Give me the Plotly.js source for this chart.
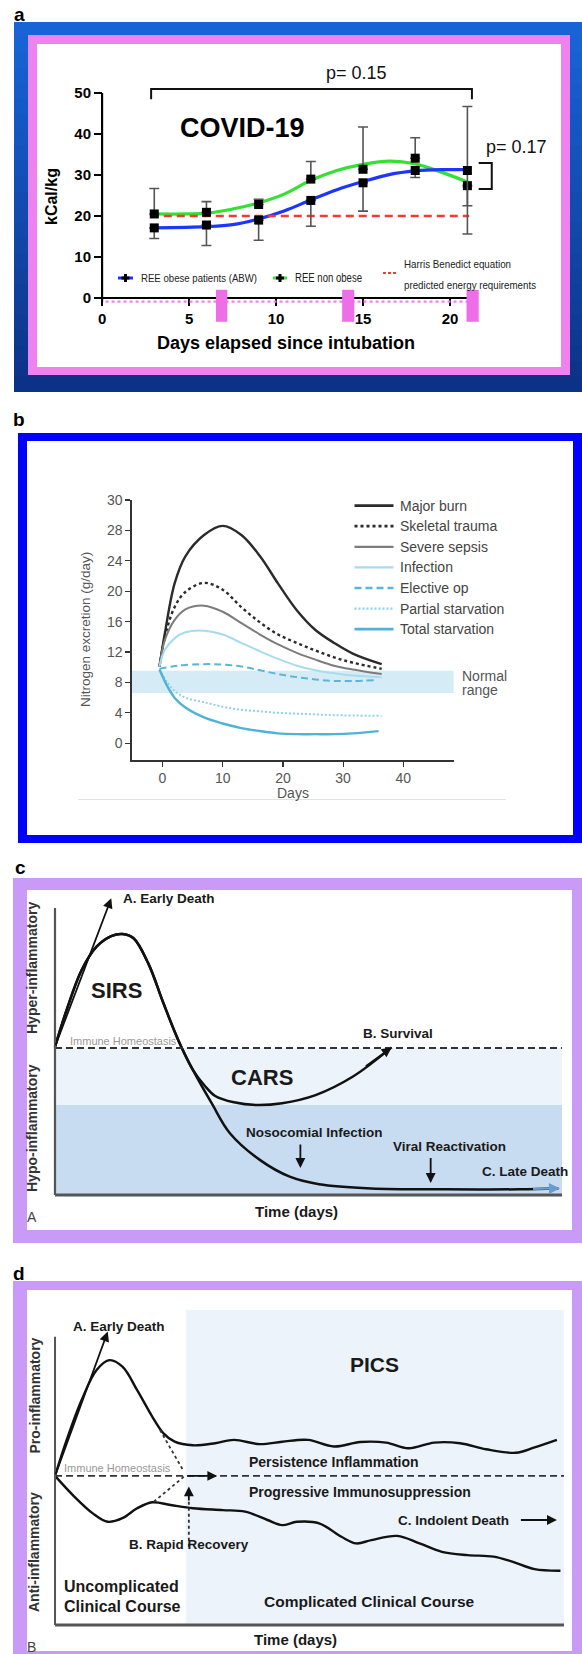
<!DOCTYPE html>
<html><head><meta charset="utf-8">
<script src="https://cdn.plot.ly/plotly-3.0.1.min.js"></script>
<style>html,body{margin:0;padding:0;background:#fff;}#chart{width:582px;height:1654px;}</style>
</head><body><div id="chart"></div>
<script>
// ---------------- Panel a data ----------------
const aDays = [3, 6, 9, 12, 15, 18, 21];
const aObese = [17.1, 17.8, 19.0, 23.8, 28.1, 31.1, 31.1];
const aObeseErrPlus = [0, 0, 0, 0, 0, 0, 15.6];
const aObeseErrMinus = [2.6, 5.0, 4.9, 6.3, 6.9, 1.7, 15.5];
const aNonObese = [20.5, 20.9, 22.8, 29.0, 31.4, 34.1, 27.4];
const aNonObeseErrPlus = [6.2, 2.6, 1.3, 4.3, 10.3, 5.0, 0];
const aNonObeseErrMinus = [0, 0, 0, 0, 0, 0, 4.9];
const aFitDays = [3, 6, 7.5, 9, 10.5, 12, 13.5, 15, 16.5, 18, 19.5, 21];
const aObeseFit = [17.1, 17.4, 17.9, 19.3, 21.3, 23.9, 26.4, 28.4, 30.1, 31.0, 31.3, 31.3];
const aNonObeseFit = [20.5, 20.7, 21.7, 23.2, 25.4, 28.7, 31.1, 32.6, 33.4, 32.7, 30.7, 28.3];
const aHarrisDays = [2.8, 21.1];
const aHarrisValue = [20, 20];
const aXTicks = [0, 5, 10, 15, 20];
const aYTicks = [0, 10, 20, 30, 40, 50];
const aPinkMarks = [[6.55, 7.2], [13.8, 14.5], [20.95, 21.65]];
const aBracket1 = {x: [2.82, 21.26], y: [48.5, 51]};
const aBracket2 = {x: [21.65, 22.4], y: [26.6, 32.9]};

// ---------------- Panel b data ----------------
const bDays = [-0.5, 0.4, 2, 3.8, 6.9, 10, 13.1, 16.2, 19.2, 22.3, 25.4, 28.5, 31.6, 36.4];
const bMajorBurn = [10.1, 14.5, 21.0, 24.6, 27.4, 28.6, 27.4, 24.6, 21.0, 17.5, 14.9, 13.2, 11.8, 10.4];
const bSkeletal = [10.1, 14.0, 17.9, 19.9, 21.1, 20.2, 17.9, 15.9, 14.3, 13.2, 12.2, 11.3, 10.6, 9.8];
const bSepsis = [10.1, 13.6, 16.2, 17.6, 18.1, 17.3, 15.8, 14.3, 13.0, 11.9, 11.0, 10.2, 9.7, 9.1];
const bInfection = [10.1, 12.3, 13.8, 14.6, 14.8, 14.3, 13.2, 12.1, 11.1, 10.2, 9.6, 9.2, 8.9, 8.7];
const bElectiveDays = [-0.5, 1.6, 3.8, 8.7, 13.1, 16.2, 19.2, 22.3, 25.4, 28.5, 31.6, 35.2];
const bElective = [9.8, 10.1, 10.3, 10.4, 10.1, 9.6, 9.1, 8.7, 8.4, 8.2, 8.2, 8.3];
const bPartialDays = [-0.5, 0.8, 2, 3.8, 6.9, 10, 13.1, 16.2, 19.2, 22.3, 25.4, 28.5, 36.4];
const bPartial = [9.7, 8.0, 6.9, 6.0, 5.4, 4.8, 4.4, 4.2, 4.0, 3.9, 3.8, 3.7, 3.6];
const bTotalDays = [-0.5, 0.8, 2, 3.8, 6.9, 10, 13.1, 16.2, 19.2, 22.3, 25.4, 28.5, 31.6, 35.9];
const bTotal = [9.7, 7.5, 6.0, 4.7, 3.4, 2.6, 2.0, 1.6, 1.3, 1.2, 1.2, 1.2, 1.3, 1.6];
const bNormalRange = [6.6, 9.55];
const bXTicks = [0, 10, 20, 30, 40];
const bYTickVals = [0, 4, 8, 12, 16, 20, 24, 28, 32];
const bYTickText = ['0', '4', '8', '12', '16', '20', '24', '28', '30'];

// ---------------- Panel c data (schematic) ----------------
const cSirsX = [0, 2.3, 5.26, 8.2, 11.1, 13.3, 15.5, 18.4, 21.4, 24.3, 27.2];
const cSirsY = [49.4, 61.7, 75, 82.8, 86.3, 87, 85.6, 77.2, 63.9, 51.7, 41.7];
const cCarsX = [29.5, 31.6, 35.3, 39.7, 44.8, 51.4, 58.7, 66.4];
const cCarsY = [36.5, 33, 30.9, 30, 30.6, 33.3, 39.4, 49.2];
const cLateX = [30.9, 34.5, 40.4, 46.3, 52.1, 62.4, 77, 91.6, 99.3];
const cLateY = [30.6, 20.6, 11.7, 6.1, 3.6, 2.2, 1.9, 1.9, 2.2];
const cHomeostasis = 49;
const cBandLevels = [0, 30, 49];

// ---------------- Panel d data (schematic) ----------------
const dProX = [0, 2.3, 5.25, 8.2, 10.75, 13.3, 16.2, 19.2, 21.4, 23.6, 27.2, 31.6, 35.3, 40.4, 44.8, 49.9, 55, 60.2, 65.3, 69.7, 74.8, 79.9, 85, 90.9, 94.6, 99];
const dProY = [49.7, 61.7, 75, 85, 88.3, 86.1, 78.3, 69.4, 63.9, 61.1, 59.9, 60.6, 61.7, 60.3, 61.1, 61.7, 59.5, 61, 60.8, 58.9, 60.8, 60.6, 58.6, 57.4, 59.2, 61.7];
const dAntiX = [0, 3.8, 7.45, 10.4, 13.3, 16.2, 19.2, 22.8, 27.2, 33.1, 37.5, 41.9, 44.8, 47.7, 52.1, 56.5, 59.4, 62.4, 67.5, 71.9, 76.3, 81.4, 86.5, 90.2, 94.6, 99.7];
const dAntiY = [49.7, 42.8, 37.2, 34.4, 35.6, 38.9, 40.9, 40, 38.9, 38.3, 37.8, 35, 33.3, 34.4, 33.9, 29.4, 27.2, 28.3, 29.7, 27.2, 24.4, 23.3, 22.8, 21.1, 18.6, 18.1];
const dHomeostasis = 49.7;
const dPicsStart = 25.8;
const dDot1X = [20.7, 25.4], dDot1Y = [65, 51.2];
const dDot2X = [19.5, 25.4], dDot2Y = [41.1, 49.4];
const dRecoveryX = [26.4, 26.4], dRecoveryY = [26.1, 42];

// ---------------- helpers ----------------
const W = 582, H = 1654;
const px = v => v / W, py = v => 1 - v / H;
const F = 'Liberation Sans, Arial, Helvetica, sans-serif';
const shapes = [], ann = [], traces = [];
const squeeze = {};

function prect(x0, y0, x1, y1, fill, layer) {
  shapes.push({type: 'rect', xref: 'paper', yref: 'paper', x0: px(x0), x1: px(x1), y0: py(y1), y1: py(y0),
    fillcolor: fill, line: {width: 0}, layer: layer || 'below'});
}
function pline(x0, y0, x1, y1, color, width, dash) {
  shapes.push({type: 'line', xref: 'paper', yref: 'paper', x0: px(x0), x1: px(x1), y0: py(y0), y1: py(y1),
    line: {color: color, width: width, dash: dash || 'solid'}});
}
function pcross(x, y, r) {
  pline(x - r, y, x + r, y, '#000', 3);
  pline(x, y - r, x, y + r, '#000', 3);
}
function dline(ax, x0, y0, x1, y1, color, width, dash) {
  shapes.push({type: 'line', xref: 'x' + ax, yref: 'y' + ax, x0: x0, x1: x1, y0: y0, y1: y1,
    line: {color: color, width: width, dash: dash || 'solid'}});
}
function ptext(x, y, text, size, o) {
  o = o || {};
  if (o.len) squeeze[text] = o.len;
  ann.push({xref: 'paper', yref: 'paper', x: px(x), y: py(y), text: text, showarrow: false,
    xanchor: o.xa || 'center', yanchor: 'middle', align: o.xa === 'left' ? 'left' : 'center', textangle: o.angle || 0,
    borderpad: 0,
    font: {family: o.family || F, size: size, color: o.color || '#000', weight: o.bold ? 'bold' : 'normal'}});
}
function dtext(ax, x, y, text, size, o) {
  o = o || {};
  ann.push({xref: 'x' + ax, yref: 'y' + ax, x: x, y: y, text: text, showarrow: false,
    xanchor: o.xa || 'left', yanchor: 'middle', borderpad: 0,
    font: {family: o.family || F, size: size, color: o.color || '#1a1a1a', weight: o.bold === false ? 'normal' : 'bold'}});
}
function darrow(ax, from, to, color, width) {
  ann.push({xref: 'x' + ax, yref: 'y' + ax, axref: 'x' + ax, ayref: 'y' + ax, x: to[0], y: to[1], ax: from[0], ay: from[1],
    text: '', showarrow: true, arrowhead: 2, arrowsize: 1.1, arrowwidth: width || 1.8, arrowcolor: color || '#111'});
}

// ---------------- Panel frames ----------------
const nStripe = 24;
for (let i = 0; i < nStripe; i++) {
  const t = i / (nStripe - 1);
  const r = Math.round(24 + (12 - 24) * t), g = Math.round(100 + (50 - 100) * t), b = Math.round(215 + (135 - 215) * t);
  const y0 = 22 + i * (370 / nStripe), y1 = y0 + 370 / nStripe + 0.8;
  prect(14, y0, 582, Math.min(y1, 392), 'rgb(' + r + ',' + g + ',' + b + ')');
}
prect(28, 35, 570, 375, '#ee82ee');
prect(37, 44, 561, 367, '#ffffff');
prect(18, 433, 582, 843, '#0000ff');
prect(27, 441, 573, 835, '#ffffff');
prect(13, 878, 582, 1243, '#c99af6');
prect(27, 890, 572, 1230, '#ffffff');
prect(13, 1281, 582, 1654, '#c99af6');
prect(27, 1290, 572, 1651, '#ffffff');

ptext(19, 15, 'a', 19, {bold: true});
ptext(19, 420, 'b', 19, {bold: true});
ptext(20, 868, 'c', 19, {bold: true});
ptext(19, 1273, 'd', 19, {bold: true});

// ---------------- Panel a ----------------
traces.push({x: aFitDays, y: aNonObeseFit, mode: 'lines', line: {color: '#35e035', width: 3.2, shape: 'spline'}, xaxis: 'x', yaxis: 'y'});
traces.push({x: aFitDays, y: aObeseFit, mode: 'lines', line: {color: '#1c35ff', width: 3.2, shape: 'spline'}, xaxis: 'x', yaxis: 'y'});
traces.push({x: aHarrisDays, y: aHarrisValue, mode: 'lines', line: {color: '#f23b32', width: 2.4, dash: '8px,5px'}, xaxis: 'x', yaxis: 'y'});
traces.push({x: aDays, y: aNonObese, mode: 'markers', marker: {symbol: 'square', size: 9, color: '#000'},
  error_y: {type: 'data', symmetric: false, array: aNonObeseErrPlus, arrayminus: aNonObeseErrMinus, color: '#555', thickness: 1.6, width: 5},
  xaxis: 'x', yaxis: 'y', cliponaxis: false});
traces.push({x: aDays, y: aObese, mode: 'markers', marker: {symbol: 'square', size: 9, color: '#000'},
  error_y: {type: 'data', symmetric: false, array: aObeseErrPlus, arrayminus: aObeseErrMinus, color: '#555', thickness: 1.6, width: 5},
  xaxis: 'x', yaxis: 'y', cliponaxis: false});
dline('', 0, 0, 21.1, 0, '#000', 2.2);
dline('', 0, -1, 0, 50, '#000', 2.2);
shapes.push({type: 'line', xref: 'x', yref: 'y', x0: 0.2, x1: 21, y0: -0.9, y1: -0.9, line: {color: '#ee82ee', width: 2.2, dash: 'dot'}});
aPinkMarks.forEach(m => shapes.push({type: 'rect', xref: 'x', yref: 'y', x0: m[0], x1: m[1], y0: -5.8, y1: 2.0, fillcolor: '#ee6ee8', line: {width: 0}}));
shapes.push({type: 'path', xref: 'x', yref: 'y', path: `M ${aBracket1.x[0]},${aBracket1.y[0]} L ${aBracket1.x[0]},${aBracket1.y[1]} L ${aBracket1.x[1]},${aBracket1.y[1]} L ${aBracket1.x[1]},${aBracket1.y[0]}`, line: {color: '#111', width: 2}});
shapes.push({type: 'path', xref: 'x', yref: 'y', path: `M ${aBracket2.x[0]},${aBracket2.y[1]} L ${aBracket2.x[1]},${aBracket2.y[1]} L ${aBracket2.x[1]},${aBracket2.y[0]} L ${aBracket2.x[0]},${aBracket2.y[0]}`, line: {color: '#111', width: 2}});
ptext(356, 73, 'p= 0.15', 18, {color: '#111'});
ptext(516, 147, 'p= 0.17', 18, {color: '#111'});
ptext(242, 128, 'COVID-19', 27, {bold: true});
ptext(286, 343, 'Days elapsed since intubation', 18, {bold: true});
ptext(52, 197, 'kCal/kg', 16, {bold: true, angle: -90});
// legend keys
pline(118, 278, 133, 278, '#1c35ff', 3);
pcross(125.5, 278, 4);
ptext(140, 278, 'REE obese patients (ABW)', 11.5, {xa: 'left', color: '#222', len: 116});
pline(273, 278, 287, 278, '#35e035', 3);
pcross(280, 278, 4);
ptext(294, 278, 'REE non obese', 12, {xa: 'left', color: '#222', len: 67});
pline(383, 273, 398, 273, '#f23b32', 2.2, '3px,2px');
ptext(403, 263.5, 'Harris Benedict equation', 11.5, {xa: 'left', color: '#222', len: 107});
ptext(403, 285, 'predicted energy requirements', 11.5, {xa: 'left', color: '#222', len: 132});

// ---------------- Panel b ----------------
const bSeries = [
  {name: 'Major burn', x: bDays, y: bMajorBurn, color: '#2b2b2b', width: 2.4, dash: 'solid'},
  {name: 'Skeletal trauma', x: bDays, y: bSkeletal, color: '#2b2b2b', width: 2.4, dash: '3px,3px'},
  {name: 'Severe sepsis', x: bDays, y: bSepsis, color: '#7c7c7c', width: 2, dash: 'solid'},
  {name: 'Infection', x: bDays, y: bInfection, color: '#a8dbef', width: 2, dash: 'solid'},
  {name: 'Elective op', x: bElectiveDays, y: bElective, color: '#58b7d9', width: 2, dash: '7px,4px'},
  {name: 'Partial starvation', x: bPartialDays, y: bPartial, color: '#8cd3ea', width: 2, dash: '2px,2px'},
  {name: 'Total starvation', x: bTotalDays, y: bTotal, color: '#4fb3d6', width: 2.4, dash: 'solid'}
];
bSeries.forEach((s, i) => {
  traces.push({x: s.x, y: s.y, mode: 'lines', name: s.name, line: {color: s.color, width: s.width, dash: s.dash, shape: 'spline', smoothing: 1}, xaxis: 'x2', yaxis: 'y2'});
  const yy = 505.6 + i * 20.6;
  pline(354.5, yy, 393.5, yy, s.color, s.width + 0.3, s.dash);
  ptext(399, yy, s.name, 14, {xa: 'left', color: '#444'});
});
shapes.push({type: 'rect', xref: 'x2 domain', yref: 'y2', x0: 0, x1: 1, y0: bNormalRange[0], y1: bNormalRange[1], fillcolor: '#d5ecf6', line: {width: 0}, layer: 'below'});
ptext(461, 675.7, 'Normal', 14, {xa: 'left', color: '#555'});
ptext(461, 690, 'range', 14, {xa: 'left', color: '#555'});
ptext(292.5, 793, 'Days', 14, {color: '#555'});
ptext(86, 630, 'Nitrogen excretion (g/day)', 13.5, {color: '#555', angle: -90});
pline(78, 799.5, 506, 799.5, '#e2e2e2', 1);

// ---------------- Panel c ----------------
shapes.push({type: 'rect', xref: 'x3', yref: 'y3', x0: 0, x1: 100, y0: cBandLevels[1], y1: cBandLevels[2], fillcolor: '#edf3fa', line: {width: 0}, layer: 'below'});
shapes.push({type: 'rect', xref: 'x3', yref: 'y3', x0: 0, x1: 100, y0: cBandLevels[0], y1: cBandLevels[1], fillcolor: '#c7dcf0', line: {width: 0}, layer: 'below'});
dline(3, 0, cHomeostasis, 100, cHomeostasis, '#333', 1.8, '7px,4px');
dline(3, 0, 0, 0, 95.7, '#555', 2.2);
dline(3, 0, 0, 100, 0, '#555', 3);
traces.push({x: cSirsX.concat(cCarsX), y: cSirsY.concat(cCarsY), mode: 'lines', line: {color: '#111', width: 2.5, shape: 'spline'}, xaxis: 'x3', yaxis: 'y3'});
traces.push({x: cSirsX.concat(cLateX), y: cSirsY.concat(cLateY), mode: 'lines', line: {color: '#111', width: 2.5, shape: 'spline'}, xaxis: 'x3', yaxis: 'y3'});
darrow(3, [0, 49.4], [11.1, 98.9]);
darrow(3, [61, 42.6], [66.4, 49.2]);
darrow(3, [48.4, 17.3], [48.4, 9]);
darrow(3, [74.1, 12.8], [74.1, 4]);
darrow(3, [94, 2.0], [99.6, 2.2], '#6b9bd1', 2);
dtext(3, 13.3, 98.7, 'A. Early Death', 13.5);
dtext(3, 12.2, 68.3, 'SIRS', 22, {xa: 'center'});
dtext(3, 2.76, 51.4, 'Immune Homeostasis', 11, {bold: false, color: '#999'});
dtext(3, 40.8, 39, 'CARS', 22, {xa: 'center'});
dtext(3, 60.6, 54, 'B. Survival', 13.5);
dtext(3, 37.5, 20.8, 'Nosocomial Infection', 13.5);
dtext(3, 66.4, 16.1, 'Viral Reactivation', 13.5);
dtext(3, 84, 7.8, 'C. Late Death', 13.5);
dtext(3, 47.7, -5.6, 'Time (days)', 15, {xa: 'center'});
ptext(32, 968, 'Hyper-inflammatory', 14, {bold: true, angle: -90, color: '#333'});
ptext(32, 1128, 'Hypo-inflammatory', 14, {bold: true, angle: -90, color: '#333'});
ptext(31.5, 1217, 'A', 14, {color: '#444'});

// ---------------- Panel d ----------------
shapes.push({type: 'rect', xref: 'x4', yref: 'y4', x0: dPicsStart, x1: 100.4, y0: 0, y1: 105, fillcolor: '#ecf3fa', line: {width: 0}, layer: 'below'});
dline(4, 0, dHomeostasis, 100.4, dHomeostasis, '#333', 1.8, '7px,4px');
dline(4, 0, 0, 0, 96.1, '#555', 2);
dline(4, 0, 0, 100.4, 0, '#555', 2.8);
traces.push({x: dProX, y: dProY, mode: 'lines', line: {color: '#111', width: 2.4, shape: 'spline'}, xaxis: 'x4', yaxis: 'y4'});
traces.push({x: dAntiX, y: dAntiY, mode: 'lines', line: {color: '#111', width: 2.4, shape: 'spline'}, xaxis: 'x4', yaxis: 'y4'});
traces.push({x: dDot1X, y: dDot1Y, mode: 'lines', line: {color: '#333', width: 1.8, dash: 'dot'}, xaxis: 'x4', yaxis: 'y4'});
traces.push({x: dDot2X, y: dDot2Y, mode: 'lines', line: {color: '#333', width: 1.8, dash: 'dot'}, xaxis: 'x4', yaxis: 'y4'});
traces.push({x: dRecoveryX, y: dRecoveryY, mode: 'lines', line: {color: '#333', width: 1.8, dash: 'dot'}, xaxis: 'x4', yaxis: 'y4'});
darrow(4, [0, 49.7], [10.4, 97.8]);
darrow(4, [25.8, 49.7], [32, 49.7]);
darrow(4, [26.4, 41], [26.4, 46.2]);
darrow(4, [91.6, 35], [99, 35]);
dtext(4, 3.4, 99.4, 'A. Early Death', 13.5);
dtext(4, 63.1, 86.7, 'PICS', 21, {xa: 'center'});
dtext(4, 1.6, 52.2, 'Immune Homeostasis', 11, {bold: false, color: '#999'});
dtext(4, 38, 54.4, 'Persistence Inflammation', 14);
dtext(4, 38, 44.4, 'Progressive Immunosuppression', 14);
dtext(4, 67.5, 35, 'C. Indolent Death', 13.5);
dtext(4, 14.4, 26.7, 'B. Rapid Recovery', 13.5);
dtext(4, 1.6, 12.8, 'Uncomplicated', 16);
dtext(4, 1.6, 6.1, 'Clinical Course', 16);
dtext(4, 41.1, 7.8, 'Complicated Clinical Course', 15.5);
dtext(4, 47.5, -5, 'Time (days)', 15, {xa: 'center'});
ptext(34, 1395.5, 'Pro-inflammatory', 14, {bold: true, angle: -90, color: '#333'});
ptext(34, 1552, 'Anti-inflammatory', 14, {bold: true, angle: -90, color: '#333'});
ptext(31.5, 1647, 'B', 14, {color: '#444'});

// ---------------- layout ----------------
const noGrid = {showgrid: false, zeroline: false, fixedrange: true};
const layout = {
  width: W, height: H, margin: {l: 0, r: 0, t: 0, b: 0},
  paper_bgcolor: '#ffffff', plot_bgcolor: 'rgba(0,0,0,0)', showlegend: false,
  xaxis: Object.assign({domain: [px(37), px(561)], range: [-3.74, 26.38], anchor: 'free', position: py(298), showline: false,
    tickvals: aXTicks, ticks: 'outside', ticklen: 7, tickwidth: 2.2, tickcolor: '#000',
    tickfont: {family: F, size: 15, color: '#000', weight: 'bold'}}, noGrid),
  yaxis: Object.assign({domain: [py(367), py(44)], range: [-16.83, 61.95], anchor: 'free', position: px(102), showline: false,
    tickvals: aYTicks, ticks: 'outside', ticklen: 8, tickwidth: 2.2, tickcolor: '#000',
    tickfont: {family: F, size: 15, color: '#000', weight: 'bold'}}, noGrid),
  xaxis2: Object.assign({domain: [px(131.8), px(453.6)], range: [-5.1, 48.35], anchor: 'y2', showline: true, linecolor: '#333', linewidth: 1.5,
    tickvals: bXTicks, ticks: 'outside', ticklen: 5, tickwidth: 1.2, tickcolor: '#333',
    tickfont: {family: F, size: 14, color: '#555'}}, noGrid),
  yaxis2: Object.assign({domain: [py(760), py(500)], range: [-2.2, 32], anchor: 'x2', showline: true, linecolor: '#333', linewidth: 1.5,
    tickvals: bYTickVals, ticktext: bYTickText, ticks: 'outside', ticklen: 5, tickwidth: 1.2, tickcolor: '#333',
    tickfont: {family: F, size: 14, color: '#555'}}, noGrid),
  xaxis3: Object.assign({domain: [px(27), px(571)], range: [-5.52, 101.78], anchor: 'y3', visible: false}, noGrid),
  yaxis3: Object.assign({domain: [py(1230), py(892)], range: [-11.67, 101], anchor: 'x3', visible: false}, noGrid),
  xaxis4: Object.assign({domain: [px(28), px(571)], range: [-5.33, 101.78], anchor: 'y4', visible: false}, noGrid),
  yaxis4: Object.assign({domain: [py(1651), py(1293)], range: [-8.67, 110.67], anchor: 'x4', visible: false}, noGrid),
  shapes: shapes, annotations: ann
};
Plotly.newPlot('chart', traces, layout, {displayModeBar: false, staticPlot: true}).then(gd => {
  gd.querySelectorAll('.annotation-text').forEach(t => {
    const L = squeeze[t.textContent];
    if (L) {
      t.setAttribute('textLength', L);
      t.setAttribute('lengthAdjust', 'spacingAndGlyphs');
      const g = t.closest('.annotation');
      if (g) {
        const bg = g.querySelector('rect.bg');
        if (bg) bg.setAttribute('width', L);
      }
    }
  });
});
</script></body></html>
